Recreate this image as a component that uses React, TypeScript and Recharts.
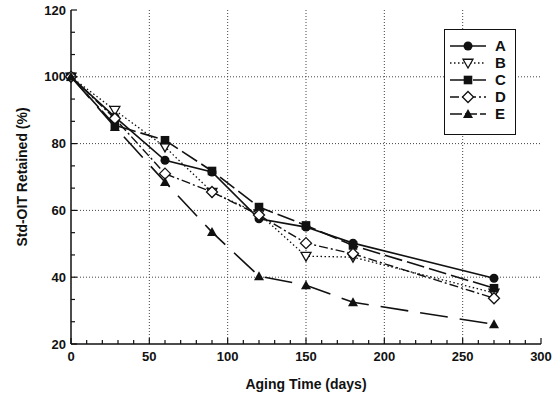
import { LineChart, Line, XAxis, YAxis, ReferenceLine } from 'recharts';

const days = [0, 28, 60, 90, 120, 150, 180, 270];
const seriesA = [100, 88, 75, 71.5, 57.5, 55, 50.2, 39.7];
const seriesB = [100, 90, 79, 65.5, 59, 46.3, 46, 35.3];
const seriesC = [100, 85.5, 81, 71.8, 61, 55.5, 49.5, 36.7];
const seriesD = [100, 87.5, 71, 65.5, 58.6, 50.2, 47, 33.7];
const seriesE = [100, 85, 68.5, 53.5, 40.3, 37.6, 32.5, 25.9];

const xMajor = [0, 50, 100, 150, 200, 250, 300];
const yMajor = [20, 40, 60, 80, 100, 120];
const gridX = [50, 100, 150, 200, 250];
const gridY = [40, 60, 80, 100];

// minor ticks: 10 days on x, thirds of 20 on y (as in the scan)
const xTicks = Array.from({ length: 31 }, (_, i) => i * 10);
const yTicks = yMajor.flatMap((v, i) => (i < yMajor.length - 1 ? [v, v + 20 / 3, v + 40 / 3] : [v]));

const data = days.map((d, i) => ({
  day: d,
  A: seriesA[i],
  B: seriesB[i],
  C: seriesC[i],
  D: seriesD[i],
  E: seriesE[i],
}));

const INK = '#111';
const FONT = '"Liberation Sans", Arial, sans-serif';

const isMajor = (v: number, list: number[]) => list.some((m) => Math.abs(m - v) < 0.01);

const BottomTick = ({ x, y, payload }: any) => {
  const major = isMajor(payload.value, xMajor);
  return (
    <g>
      <line x1={x} y1={y} x2={x} y2={y - (major ? 6 : 4)} stroke={INK} strokeWidth={1.2} />
      {major && (
        <text x={x} y={y + 17} textAnchor="middle" fontSize={13} fontWeight={600} fontFamily={FONT} fill={INK}>
          {payload.value}
        </text>
      )}
    </g>
  );
};

const TopTick = ({ x, y, payload }: any) => {
  const major = isMajor(payload.value, xMajor);
  return <line x1={x} y1={y} x2={x} y2={y + (major ? 6 : 4)} stroke={INK} strokeWidth={1.2} />;
};

const LeftTick = ({ x, y, payload }: any) => {
  const major = isMajor(payload.value, yMajor);
  return (
    <g>
      <line x1={x} y1={y} x2={x + (major ? 6 : 4)} y2={y} stroke={INK} strokeWidth={1.2} />
      {major && (
        <text x={x - 5} y={y + 4.5} textAnchor="end" fontSize={13} fontWeight={600} fontFamily={FONT} fill={INK}>
          {payload.value}
        </text>
      )}
    </g>
  );
};

const RightTick = ({ x, y, payload }: any) => {
  const major = isMajor(payload.value, yMajor);
  return <line x1={x} y1={y} x2={x - (major ? 6 : 4)} y2={y} stroke={INK} strokeWidth={1.2} />;
};

const Circle = ({ cx, cy, r = 4.5 }: any) => <circle cx={cx} cy={cy} r={r} fill={INK} />;
const TriDown = ({ cx, cy, s = 5 }: any) => (
  <polygon
    points={`${cx - s},${cy - s * 0.75} ${cx + s},${cy - s * 0.75} ${cx},${cy + s}`}
    fill="#fff"
    stroke={INK}
    strokeWidth={1.3}
  />
);
const Square = ({ cx, cy, s = 4.3 }: any) => <rect x={cx - s} y={cy - s} width={s * 2} height={s * 2} fill={INK} />;
const Diamond = ({ cx, cy, s = 5.5 }: any) => (
  <polygon
    points={`${cx},${cy - s} ${cx + s},${cy} ${cx},${cy + s} ${cx - s},${cy}`}
    fill="#fff"
    stroke={INK}
    strokeWidth={1.3}
  />
);
const TriUp = ({ cx, cy, s = 5 }: any) => (
  <polygon points={`${cx - s},${cy + s * 0.8} ${cx + s},${cy + s * 0.8} ${cx},${cy - s}`} fill={INK} />
);

const series = [
  { key: 'A', dash: undefined, width: 1.6, Dot: Circle },
  { key: 'B', dash: '1.5 2.5', width: 1.3, Dot: TriDown },
  { key: 'C', dash: '18 5', width: 1.6, Dot: Square },
  { key: 'D', dash: '9 3 2 3', width: 1.4, Dot: Diamond },
  { key: 'E', dash: '28 12', width: 1.6, Dot: TriUp },
];

const LegendBox = () => (
  <div
    style={{
      position: 'absolute',
      left: 444,
      top: 29,
      border: `1.5px solid ${INK}`,
      background: '#fff',
      width: 72,
      height: 106,
      boxSizing: 'border-box',
      padding: '7px 0 0 3px',
    }}
  >
    {series.map((s) => {
      const Dot = s.Dot;
      return (
        <div key={s.key} style={{ display: 'flex', alignItems: 'center', height: 17 }}>
          <svg width={40} height={14}>
            <line x1={2} y1={7} x2={38} y2={7} stroke={INK} strokeWidth={s.width} strokeDasharray={s.dash === '28 12' ? '12 3' : s.dash} />
            <Dot cx={20} cy={7} />
          </svg>
          <span style={{ fontFamily: FONT, fontWeight: 700, fontSize: 15, color: INK, marginLeft: 7, lineHeight: '14px' }}>
            {s.key}
          </span>
        </div>
      );
    })}
  </div>
);

export default function App() {
  return (
    <div style={{ position: 'absolute', left: 0, top: 0, width: 552, height: 397, background: '#fff' }}>
      <LineChart width={552} height={397} data={data} margin={{ top: 10, right: 11, bottom: 0, left: 0 }}>
        <XAxis
          dataKey="day"
          type="number"
          domain={[0, 300]}
          ticks={xTicks}
          interval={0}
          height={53}
          tickSize={0}
          tickMargin={0}
          tick={<BottomTick />}
          axisLine={{ stroke: INK, strokeWidth: 1.5 }}
          label={{
            value: 'Aging Time (days)',
            position: 'insideBottom',
            offset: 8,
            style: { fontFamily: FONT, fontWeight: 700, fontSize: 14, fill: INK },
          }}
        />
        <XAxis
          xAxisId="top"
          orientation="top"
          dataKey="day"
          type="number"
          domain={[0, 300]}
          ticks={xTicks}
          interval={0}
          height={0}
          tickSize={0}
          tickMargin={0}
          tick={<TopTick />}
          axisLine={{ stroke: INK, strokeWidth: 1.5 }}
        />
        <YAxis
          type="number"
          domain={[20, 120]}
          ticks={yTicks}
          interval={0}
          width={71}
          tickSize={0}
          tickMargin={0}
          tick={<LeftTick />}
          axisLine={{ stroke: INK, strokeWidth: 1.5 }}
          label={{
            value: 'Std-OIT Retained (%)',
            angle: -90,
            position: 'insideLeft',
            offset: 22,
            style: { textAnchor: 'middle', fontFamily: FONT, fontWeight: 700, fontSize: 14, fill: INK },
          }}
        />
        <YAxis
          yAxisId="right"
          orientation="right"
          type="number"
          domain={[20, 120]}
          ticks={yTicks}
          interval={0}
          width={0}
          tickSize={0}
          tickMargin={0}
          tick={<RightTick />}
          axisLine={{ stroke: INK, strokeWidth: 1.5 }}
        />
        {gridX.map((v) => (
          <ReferenceLine key={`gx${v}`} x={v} stroke="#444" strokeWidth={1} strokeDasharray="1 2" />
        ))}
        {gridY.map((v) => (
          <ReferenceLine key={`gy${v}`} y={v} stroke="#444" strokeWidth={1} strokeDasharray="1 2" />
        ))}
        {series.map((s) => {
          const Dot = s.Dot;
          return (
            <Line
              key={s.key}
              dataKey={s.key}
              type="linear"
              stroke={INK}
              strokeWidth={s.width}
              strokeDasharray={s.dash}
              dot={(p: any) => <Dot key={`${s.key}-${p.index}`} cx={p.cx} cy={p.cy} />}
              activeDot={false}
              isAnimationActive={false}
            />
          );
        })}
      </LineChart>
      <LegendBox />
    </div>
  );
}
